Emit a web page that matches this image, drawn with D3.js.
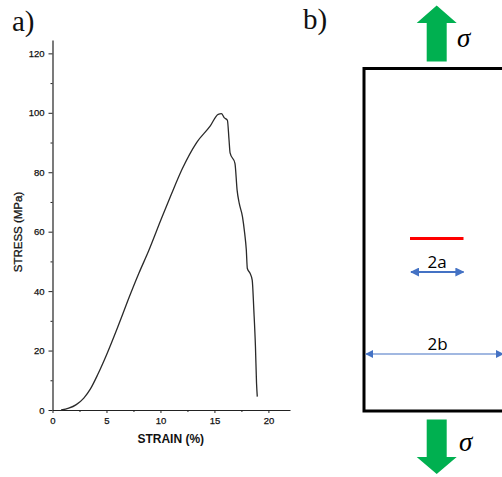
<!DOCTYPE html>
<html>
<head>
<meta charset="utf-8">
<script src="https://cdn.jsdelivr.net/npm/d3@7/dist/d3.min.js"></script>
<style>
  html, body { margin: 0; padding: 0; background: #fff; }
  svg { display: block; }
</style>
</head>
<body>
<script>
// Tensile test: strain (%) and stress (MPa) along the measured curve
const strain = [0.8, 1.5, 2.2, 2.9, 3.5, 4.2, 5.0, 6.0, 7.0, 8.0, 8.9, 10.1, 11.0, 12.0, 13.35,
                14.6, 15.35, 15.65, 15.9, 16.2, 16.35, 16.45, 16.9, 17.1, 17.3, 17.6, 17.8,
                17.95, 18.05, 18.3, 18.5, 18.65, 18.8, 18.9, 18.97];
const stress = [0, 0.6, 1.8, 4.0, 7.0, 12.0, 18.5, 27.5, 37.0, 46.0, 53.5, 64.5, 72.5, 81.0, 90.0,
                95.5, 99.5, 99.7, 98.4, 97.5, 91, 86.5, 83, 74, 69.5, 65, 59.5,
                54, 47.6, 46, 43.7, 33.6, 21.3, 9, 4.5];

const xTicks = [0, 5, 10, 15, 20];
const xMinor = [2.5, 7.5, 12.5, 17.5];
const yTicks = [0, 20, 40, 60, 80, 100, 120];
const yMinor = [10, 30, 50, 70, 90, 110];

const W = 502, H = 477;
const svg = d3.select("body").append("svg").attr("width", W).attr("height", H);

// ---------- panel a) stress-strain curve ----------
const x = d3.scaleLinear().domain([0, 22]).range([52.5, 290]);
const y = d3.scaleLinear().domain([0, 124.5]).range([410, 40]);

const axisColor = "#222";
const tickFont = "Liberation Sans, Arial, sans-serif";

const gx = svg.append("g").attr("transform", `translate(0,${y(0)})`)
  .call(d3.axisBottom(x).tickValues(xTicks).tickSize(3).tickSizeOuter(0).tickPadding(4)
        .tickFormat(d3.format("d")));
svg.append("g").attr("transform", `translate(0,${y(0)})`)
  .call(d3.axisBottom(x).tickValues(xMinor).tickSize(2).tickSizeOuter(0).tickFormat(""))
  .select(".domain").remove();

const gy = svg.append("g").attr("transform", `translate(${x(0)},0)`)
  .call(d3.axisLeft(y).tickValues(yTicks).tickSize(4).tickSizeOuter(0).tickPadding(4)
        .tickFormat(d3.format("d")));
svg.append("g").attr("transform", `translate(${x(0)},0)`)
  .call(d3.axisLeft(y).tickValues(yMinor).tickSize(2).tickSizeOuter(0).tickFormat(""))
  .select(".domain").remove();

svg.selectAll(".domain").attr("stroke", axisColor).attr("stroke-width", 1.2);
svg.selectAll(".tick line").attr("stroke", axisColor).attr("stroke-width", 1);
[gx, gy].forEach(g => g.selectAll(".tick text")
  .attr("font-family", tickFont).attr("font-size", 9.5).attr("fill", "#111")
  .attr("stroke", "#111").attr("stroke-width", 0.25));

svg.append("text")
  .attr("x", (x(0) + x(22)) / 2 - 0.5).attr("y", 443)
  .attr("text-anchor", "middle")
  .attr("font-family", tickFont).attr("font-size", 12).attr("font-weight", "bold")
  .attr("fill", "#111")
  .text("STRAIN (%)");

svg.append("text")
  .attr("transform", "translate(22,232) rotate(-90)")
  .attr("text-anchor", "middle")
  .attr("font-family", tickFont).attr("font-size", 11.5)
  .attr("fill", "#111").attr("stroke", "#111").attr("stroke-width", 0.3)
  .text("STRESS (MPa)");

const pts = strain.map((s, i) => [s, stress[i]]);
svg.append("path")
  .datum(pts)
  .attr("fill", "none")
  .attr("stroke", "#2a2a2a")
  .attr("stroke-width", 1.3)
  .attr("stroke-linejoin", "round")
  .attr("d", d3.line().x(d => x(d[0])).y(d => y(d[1])).curve(d3.curveMonotoneX));

const serif = "Liberation Serif, Times New Roman, serif";
svg.append("text").attr("x", 12).attr("y", 31)
  .attr("font-family", serif).attr("font-size", 29).attr("fill", "#111").text("a)");

// ---------- panel b) plate with a central crack under tension ----------
svg.append("text").attr("x", 303).attr("y", 29)
  .attr("font-family", serif).attr("font-size", 29).attr("fill", "#111").text("b)");

const green = "#00b050", blue = "#4472c4";

// plate outline (extends past the right edge)
svg.append("rect")
  .attr("x", 364).attr("y", 68.5).attr("width", 220).attr("height", 342.5)
  .attr("fill", "none").attr("stroke", "#000").attr("stroke-width", 3);

// load arrows: shaft from yBase toward the tip, head occupying the last stretch
function bigArrow(cx, yBase, yTip, shaftLen) {
  const dir = Math.sign(yTip - yBase);
  const headBase = yBase + dir * shaftLen;
  const p = d3.path();
  p.moveTo(cx - 10, yBase);
  p.lineTo(cx - 10, headBase);
  p.lineTo(cx - 20, headBase);
  p.lineTo(cx, yTip);
  p.lineTo(cx + 20, headBase);
  p.lineTo(cx + 10, headBase);
  p.lineTo(cx + 10, yBase);
  p.closePath();
  svg.append("path").attr("d", p.toString()).attr("fill", green);
}
bigArrow(436.7, 61.5, 5.5, 38.5);
bigArrow(436.7, 419.5, 474, 37.5);

svg.append("text").attr("x", 457).attr("y", 47)
  .attr("font-family", serif).attr("font-style", "italic").attr("font-size", 27)
  .attr("fill", "#000").text("σ");
svg.append("text").attr("x", 459).attr("y", 451)
  .attr("font-family", serif).attr("font-style", "italic").attr("font-size", 27)
  .attr("fill", "#000").text("σ");

// crack
svg.append("line").attr("x1", 410).attr("x2", 463.5).attr("y1", 238.5).attr("y2", 238.5)
  .attr("stroke", "#ff0000").attr("stroke-width", 3);

// dimension arrows
const defs = svg.append("defs");
function marker(id, size) {
  defs.append("marker").attr("id", id)
    .attr("viewBox", "0 0 10 10").attr("refX", 9).attr("refY", 5)
    .attr("markerUnits", "userSpaceOnUse")
    .attr("markerWidth", size).attr("markerHeight", size)
    .attr("orient", "auto-start-reverse")
    .append("path").attr("d", "M0,0 L10,5 L0,10 Z").attr("fill", blue);
}
marker("arrA", 9);
marker("arrB", 8);

svg.append("line").attr("x1", 411).attr("x2", 463.5).attr("y1", 272).attr("y2", 272)
  .attr("stroke", blue).attr("stroke-width", 2)
  .attr("marker-start", "url(#arrA)").attr("marker-end", "url(#arrA)");
svg.append("line").attr("x1", 366).attr("x2", 503).attr("y1", 354).attr("y2", 354)
  .attr("stroke", blue).attr("stroke-width", 1.2)
  .attr("marker-start", "url(#arrB)").attr("marker-end", "url(#arrB)");

const sans = "Open Sans, DejaVu Sans, sans-serif";
svg.append("text").attr("x", 437).attr("y", 268).attr("text-anchor", "middle")
  .attr("font-family", sans).attr("font-size", 17).attr("fill", "#000").text("2a");
svg.append("text").attr("x", 437.5).attr("y", 350).attr("text-anchor", "middle")
  .attr("font-family", sans).attr("font-size", 17).attr("fill", "#000").text("2b");
</script>
</body>
</html>
